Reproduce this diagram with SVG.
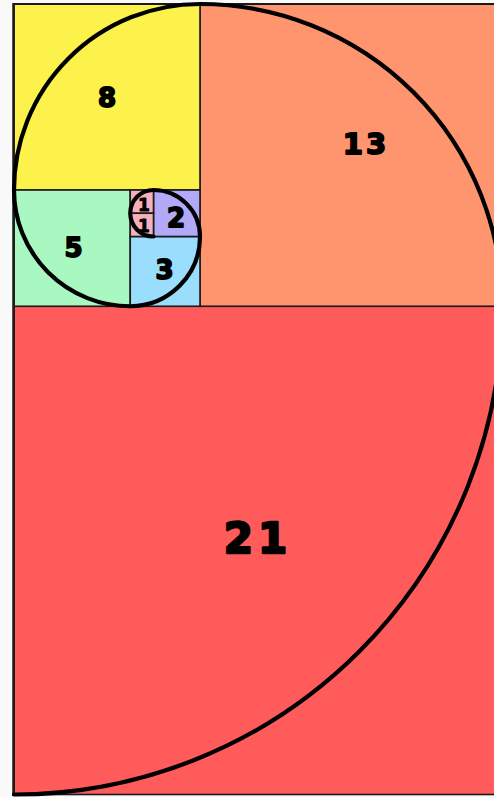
<svg xmlns="http://www.w3.org/2000/svg" width="494" height="797" viewBox="0 0 494 797">
<style>
.sq{stroke:#1a1a1a;stroke-width:1.6}
.lb{font-family:"DejaVu Sans","Liberation Sans",sans-serif;font-weight:bold;fill:#000;stroke:#000;stroke-width:1.8;stroke-linejoin:round;text-anchor:middle}
.sp{fill:none;stroke:#000;stroke-width:4.2;stroke-linecap:round}
</style>
<rect x="0" y="0" width="494" height="797" fill="#f9f9f9"/>
<g id="sq21"><rect class="sq" x="14" y="306.25" width="488.25" height="488.25" fill="#FF5B5B"/><text class="lb" x="258" y="553" font-size="42" letter-spacing="5" style="stroke-width:2.4">21</text></g>
<g id="sq13"><rect class="sq" x="200" y="4" width="302.25" height="302.25" fill="#FF956F"/><text class="lb" x="366" y="154" font-size="29" letter-spacing="3">13</text></g>
<g id="sq8"><rect class="sq" x="14" y="4" width="186" height="186" fill="#FCF24B"/><text class="lb" x="107" y="107" font-size="26">8</text></g>
<g id="sq5"><rect class="sq" x="14" y="190" width="116.25" height="116.25" fill="#AAF8C1"/><text class="lb" x="73.5" y="257" font-size="26">5</text></g>
<g id="sq3"><rect class="sq" x="130.25" y="236.5" width="69.75" height="69.75" fill="#9ADDFD"/><text class="lb" x="164.5" y="279" font-size="26">3</text></g>
<g id="sq2"><rect class="sq" x="153.5" y="190" width="46.5" height="46.5" fill="#B2AAF8"/><text class="lb" x="176" y="227" font-size="26">2</text></g>
<g id="sq1a"><rect class="sq" x="130.25" y="190" width="23.25" height="23.25" fill="#F5B0BC"/><text class="lb" x="144" y="211" font-size="17" style="stroke-width:0.9">1</text></g>
<g id="sq1b"><rect class="sq" x="130.25" y="213.25" width="23.25" height="23.25" fill="#F5B0BC"/><text class="lb" x="144" y="232" font-size="17" style="stroke-width:0.9">1</text></g>
<line x1="13.5" y1="3" x2="13.5" y2="796" stroke="#1a1a1a" stroke-width="2.5"/>
<line x1="13" y1="4" x2="494" y2="4" stroke="#1a1a1a" stroke-width="2"/>
<g id="connectors">
<path class="sp" d="M153.5,236.5 A23.25,23.25 0 0 1 130.25,213.25 A23.25,23.25 0 0 1 153.5,190 A46.5,46.5 0 0 1 200,236.5 A69.75,69.75 0 0 1 130.25,306.25 A116.25,116.25 0 0 1 14,190 A186,186 0 0 1 200,4 A302.25,302.25 0 0 1 502.25,306.25 A488.25,488.25 0 0 1 14,794.5"/>
</g>
</svg>
